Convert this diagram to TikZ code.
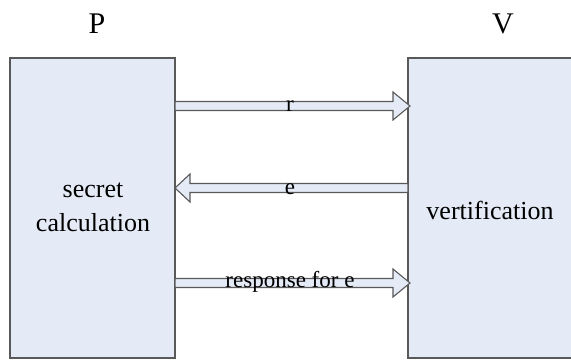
\documentclass[tikz,border=0pt]{standalone}
\usepackage{fontspec}
\setmainfont{Liberation Serif}
\begin{document}
\begin{tikzpicture}[x=1pt,y=1pt,
  box/.style={draw=black!65,line width=1.3pt,fill=boxfill},
  arr/.style={draw=black!65,line width=1.1pt,fill=boxfill,line join=miter},
  lbl/.style={font=\fontsize{23}{25}\selectfont,inner sep=0pt},
  big/.style={font=\fontsize{26}{34}\selectfont,inner sep=0pt},
  title/.style={font=\fontsize{30}{32}\selectfont,inner sep=0pt}]
\definecolor{boxfill}{HTML}{E4EBF6}
\useasboundingbox (0,0) rectangle (571,360);
\draw[box] (10,2) rectangle (175,302);
\draw[box] (408,2) rectangle (574,302);
\node[title] (Pt) at (97,336) {P};
\node[title] (Vt) at (503,336) {V};
\node[big,align=center] (pc) at (93,153) {secret\\calculation};
\node[big] (vc) at (490,150) {vertification};
% arrow r
\draw[arr] (175,258.5) -- (393,258.5) -- (393,268) -- (410,254) -- (393,240) -- (393,249.5) -- (175,249.5) -- cycle;
% arrow e
\draw[arr] (408,176.5) -- (190,176.5) -- (190,186) -- (175,172) -- (190,158) -- (190,167.5) -- (408,167.5) -- cycle;
% arrow response
\draw[arr] (175,81.5) -- (393,81.5) -- (393,91) -- (410,77) -- (393,63) -- (393,72.5) -- (175,72.5) -- cycle;
\node[lbl] (lr) at (290,254) {r};
\node[lbl] (le) at (290,171) {e};
\node[lbl] (lresp) at (290,78) {response for e};
\end{tikzpicture}
\end{document}
